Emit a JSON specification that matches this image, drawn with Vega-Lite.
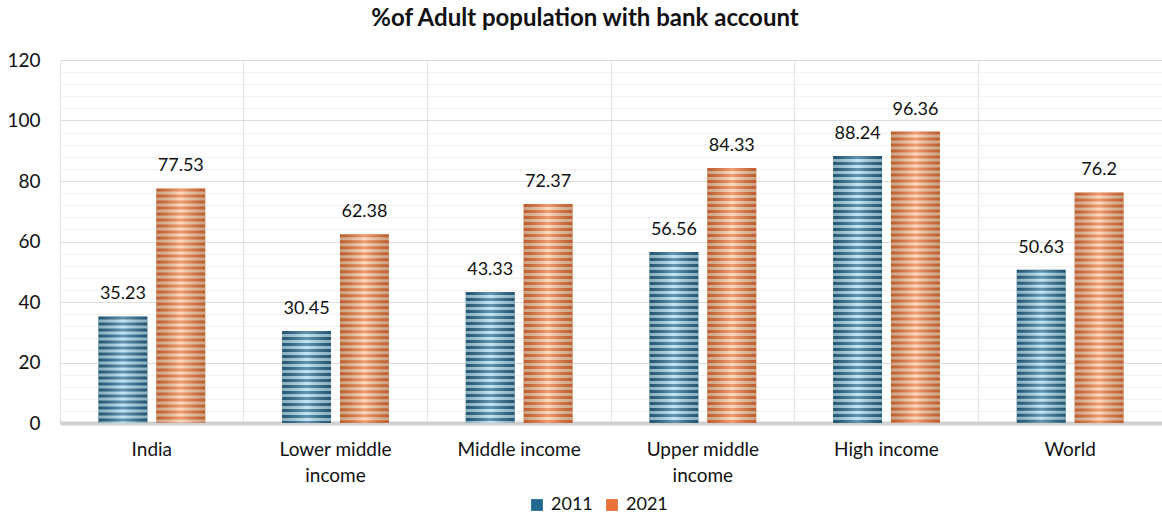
{
  "$schema": "https://vega.github.io/schema/vega-lite/v6.json",
  "width": 1102,
  "height": 363,
  "autosize": {"type": "none"},
  "padding": {"left": 60, "top": 60, "right": 0, "bottom": 91},
  "background": "white",
  "title": {"text": "%of Adult population with bank account", "fontSize": 24, "font": "Lato", "fontWeight": "bold", "color": "#111111", "anchor": "middle", "dx": -26, "offset": 20},
  "config": {
    "font": "Lato",
    "view": {"stroke": null},
    "axis": {"labelFont": "Lato", "labelFontSize": 19, "labelColor": "#111111"}
  },
  "data": {
    "values": [
      {"region": "India", "year": "2011", "value": 35.23},
      {"region": "India", "year": "2021", "value": 77.53},
      {"region": "Lower middle income", "year": "2011", "value": 30.45},
      {"region": "Lower middle income", "year": "2021", "value": 62.38},
      {"region": "Middle income", "year": "2011", "value": 43.33},
      {"region": "Middle income", "year": "2021", "value": 72.37},
      {"region": "Upper middle income", "year": "2011", "value": 56.56},
      {"region": "Upper middle income", "year": "2021", "value": 84.33},
      {"region": "High income", "year": "2011", "value": 88.24},
      {"region": "High income", "year": "2021", "value": 96.36},
      {"region": "World", "year": "2011", "value": 50.63},
      {"region": "World", "year": "2021", "value": 76.2}
    ]
  },
  "resolve": {"axis": {"y": "independent"}},
  "layer": [
    {
      "mark": {"type": "bar"},
      "encoding": {
        "x": {"field": "region", "type": "nominal", "sort": null, "scale": {"paddingInner": 0, "paddingOuter": 0},
          "axis": {"title": null, "labelAngle": 0, "ticks": false, "grid": true, "bandPosition": 0, "gridColor": "#e4e4e4", "domainColor": "#d0d0d0", "domainWidth": 4, "labelPadding": 17, "labelLineHeight": 26,
            "labelExpr": "datum.value == 'Lower middle income' ? ['Lower middle','income'] : datum.value == 'Upper middle income' ? ['Upper middle','income'] : datum.value"}},
        "xOffset": {"field": "year", "type": "nominal", "scale": {"paddingInner": 0.155, "paddingOuter": 0.664}},
        "y": {"field": "value", "type": "quantitative", "scale": {"domain": [0, 120]},
          "axis": {"title": null, "values": [0, 20, 40, 60, 80, 100, 120], "grid": true, "gridColor": "#dcdcdc", "domain": false, "ticks": false, "labelPadding": 20, "orient": "left"}},
        "color": {"field": "year", "type": "nominal", "scale": {"range": ["#236890", "#ea7236"]},
          "legend": {"title": null, "orient": "none", "direction": "horizontal", "legendX": 468, "legendY": 436, "symbolType": "square", "symbolSize": 140, "labelFontSize": 18, "labelColor": "#111111", "columnPadding": 10, "labelOffset": 5, "symbolStrokeWidth": 0}}
      }
    },
    {
      "mark": {"type": "rule", "strokeWidth": 49, "strokeDash": [3, 3], "strokeDashOffset": 3, "strokeCap": "butt"},
      "encoding": {
        "x": {"field": "region", "type": "nominal", "sort": null},
        "xOffset": {"field": "year", "type": "nominal"},
        "y": {"field": "value", "type": "quantitative",
          "axis": {"title": null, "values": [4, 8, 12, 16, 24, 28, 32, 36, 44, 48, 52, 56, 64, 68, 72, 76, 84, 88, 92, 96, 104, 108, 112, 116], "grid": true, "gridColor": "#f1f1f1", "domain": false, "ticks": false, "labels": false, "orient": "right"}},
        "y2": {"datum": 0},
        "stroke": {"condition": {"test": "datum.year === '2011'", "value": "#a9daf0"}, "value": "#fbcaa8"}
      }
    },
    {
      "mark": {"type": "bar", "fill": {"gradient": "linear", "x1": 0, "x2": 1, "y1": 0, "y2": 0,
        "stops": [
          {"offset": 0, "color": "rgba(30,20,10,0.22)"},
          {"offset": 0.5, "color": "rgba(255,255,255,0.3)"},
          {"offset": 1, "color": "rgba(30,20,10,0.22)"}
        ]}},
      "encoding": {
        "x": {"field": "region", "type": "nominal", "sort": null},
        "xOffset": {"field": "year", "type": "nominal"},
        "y": {"field": "value", "type": "quantitative", "axis": null}
      }
    },
    {
      "mark": {"type": "text", "baseline": "bottom", "dy": -13, "fontSize": 18, "color": "#111111", "font": "Lato"},
      "encoding": {
        "x": {"field": "region", "type": "nominal", "sort": null},
        "xOffset": {"field": "year", "type": "nominal"},
        "y": {"field": "value", "type": "quantitative", "axis": null},
        "text": {"field": "value", "type": "quantitative"}
      }
    }
  ]
}
